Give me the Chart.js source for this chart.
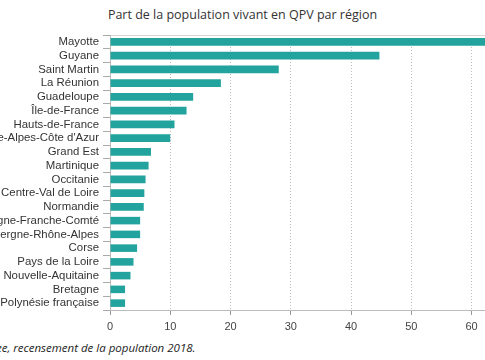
<!DOCTYPE html>
<html>
<head>
<meta charset="utf-8">
<script src="https://cdn.jsdelivr.net/npm/chart.js@4"></script>
<style>
  body { margin: 0; width: 485px; height: 360px; overflow: hidden; position: relative; background: #fff; }
  .title { position: absolute; top: 6px; left: 0; width: 485px; text-align: center;
    font: 12.5px "Open Sans", sans-serif; color: #333; }
  .wrap { position: absolute; top: 0; left: -60px; width: 603px; height: 332px; }
  .source { position: absolute; top: 340px; left: -62px; white-space: nowrap;
    font: italic 11.5px "Open Sans", sans-serif; color: #222; }
</style>
</head>
<body>
<div class="title">Part de la population vivant en QPV par région</div>
<div class="wrap"><canvas id="c"></canvas></div>
<div class="source">Source : Insee, recensement de la population 2018.</div>
<script>
const regions = ['Mayotte', 'Guyane', 'Saint Martin', 'La Réunion', 'Guadeloupe', 'Île-de-France',
  'Hauts-de-France', "Provence-Alpes-Côte d'Azur", 'Grand Est', 'Martinique', 'Occitanie',
  'Centre-Val de Loire', 'Normandie', 'Bourgogne-Franche-Comté', 'Auvergne-Rhône-Alpes', 'Corse',
  'Pays de la Loire', 'Nouvelle-Aquitaine', 'Bretagne', 'Polynésie française'];
const part = [66, 44.7, 28.0, 18.4, 13.8, 12.7, 10.7, 10.0, 6.8, 6.4, 5.9, 5.7, 5.6, 5.0, 5.0, 4.5, 3.9, 3.4, 2.5, 2.5];
const xTicks = [0, 10, 20, 30, 40, 50, 60, 70];

new Chart(document.getElementById('c'), {
  type: 'bar',
  data: {
    labels: regions,
    datasets: [{
      data: part,
      backgroundColor: '#22a39e',
      barPercentage: 0.55,
      categoryPercentage: 1
    }]
  },
  options: {
    indexAxis: 'y',
    responsive: true,
    maintainAspectRatio: false,
    animation: false,
    layout: { padding: { top: 35, right: 0, left: 0, bottom: 0 } },
    plugins: { legend: { display: false }, tooltip: { enabled: false } },
    scales: {
      x: {
        min: 0,
        max: 70,
        afterBuildTicks: s => { s.ticks = xTicks.map(v => ({ value: v })); },
        afterFit: s => { s.height = 22; },
        grid: {
          color: '#bdbdbd',
          lineWidth: 1,
          tickColor: '#999',
          tickLength: 5,
          tickBorderDash: []
        },
        border: { color: '#bbb', dash: [1, 2] },
        ticks: { color: '#444', padding: 5, font: { family: 'Arial', size: 11 } }
      },
      y: {
        afterFit: s => { s.width = 170; },
        grid: {
          offset: true,
          color: c => c.index === 0 ? '#d6d6d6' : 'rgba(0,0,0,0)',
          tickColor: '#aaa',
          tickLength: 7
        },
        border: { color: '#bbb' },
        ticks: { color: '#333', padding: 4, autoSkip: false, font: { family: 'Arial', size: 11.4 } }
      }
    }
  }
});
</script>
</body>
</html>
